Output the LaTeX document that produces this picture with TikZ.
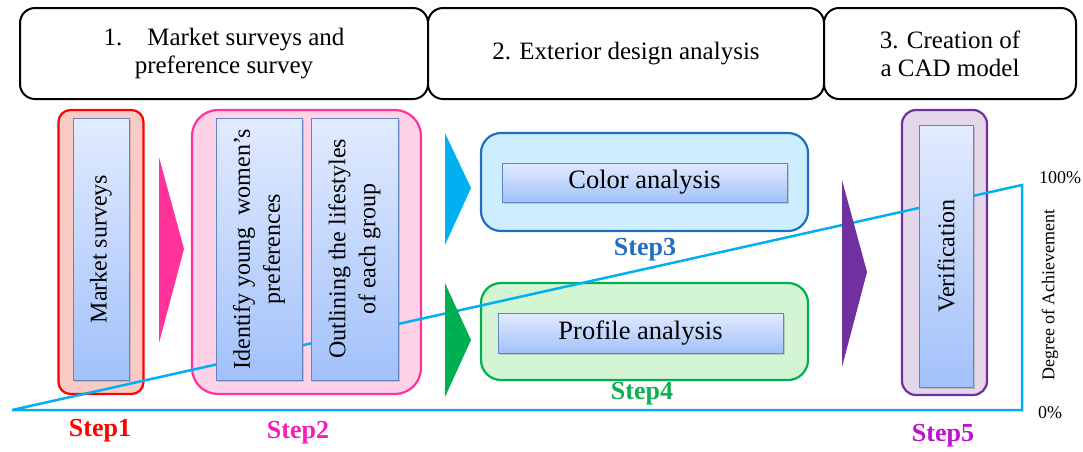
\documentclass[tikz,border=0pt]{standalone}
\usepackage{fontspec}
\setmainfont{Liberation Serif}
\usetikzlibrary{shadows}
\definecolor{skyline}{HTML}{00B0F0}
\definecolor{pinkarrow}{HTML}{FF3399}
\definecolor{greenarrow}{HTML}{00B050}
\definecolor{purplearrow}{HTML}{7030A0}
\definecolor{stepone}{HTML}{FF0000}
\definecolor{steptwo}{HTML}{F21FC0}
\definecolor{stepthree}{HTML}{1F70C0}
\definecolor{stepfour}{HTML}{10B050}
\definecolor{stepfive}{HTML}{C010D0}
\definecolor{innertop}{HTML}{E2EBFF}
\definecolor{innerbot}{HTML}{A2C1FA}
\definecolor{innerline}{HTML}{5E86C4}
\tikzset{
  header/.style={draw=black, line width=2pt, rounded corners=15pt, fill=white, align=center,
    font=\fontsize{25}{28}\selectfont, inner sep=0pt},
  outerbox/.style={line width=2.2pt, rounded corners=#1},
  innerbox/.style={draw=innerline, line width=1pt, top color=innertop, bottom color=innerbot,
    drop shadow={opacity=0.35, shadow xshift=1.5pt, shadow yshift=-1.5pt}, inner sep=0pt},
  steplabel/.style={font=\fontsize{26}{28}\selectfont\bfseries},
  rottext/.style={rotate=90, align=center, font=\fontsize{24}{30}\selectfont},
  horztext/.style={font=\fontsize{26.5}{30}\selectfont},
  axistext/.style={font=\fontsize{18}{20}\selectfont},
}
\begin{document}
\begin{tikzpicture}[x=1pt, y=-1pt]
\useasboundingbox (0,0) rectangle (1083,451);
\fill[white] (0,0) rectangle (1083,451);

% Header boxes
\node[header, minimum width=408pt, minimum height=91pt] (h1) at (224,53.5) {1.\quad Market surveys and\\preference survey};
\node[header, minimum width=396pt, minimum height=91pt] (h2) at (626,53.5) {2. Exterior design analysis};
\node[header, minimum width=252pt, minimum height=91pt] (h3) at (950,53.5) {3. Creation of\\a CAD model};

% Outer step boxes
\node[outerbox=12pt, draw=stepone, fill={rgb,255:red,249;green,203;blue,196}, minimum width=85pt, minimum height=284pt] (s1) at (101,252) {};
\node[outerbox=26pt, draw=pinkarrow, fill={rgb,255:red,255;green,210;blue,232}, minimum width=229pt, minimum height=284pt] (s2) at (306.5,252) {};
\node[outerbox=20pt, draw={rgb,255:red,30;green,112;blue,190}, fill={rgb,255:red,204;green,238;blue,255}, minimum width=327pt, minimum height=98pt] (s3) at (644.5,182) {};
\node[outerbox=20pt, draw=greenarrow, fill={rgb,255:red,212;green,245;blue,212}, minimum width=327pt, minimum height=97pt] (s4) at (644.5,331.5) {};
\node[outerbox=14pt, draw=purplearrow, fill={rgb,255:red,228;green,215;blue,234}, minimum width=85pt, minimum height=285pt] (s5) at (944.5,252.5) {};

% Degree of achievement line
\coordinate (a0) at (12,410);
\coordinate (a100) at (1022,185);
\coordinate (abase) at (1022,410);
\draw[skyline, line width=2.5pt, line join=miter, miter limit=2] (a0) -- (a100) -- (abase) -- cycle;

% Inner boxes
\node[innerbox, minimum width=56pt, minimum height=262pt] (i1) at (101,249) {};
\node[rottext] (t1) at (i1.center) {Market surveys};
\node[innerbox, minimum width=86pt, minimum height=262pt] (i2) at (259,249) {};
\node[rottext] (t2) at (i2.center) {Identify young\enspace women's\\preferences};
\node[innerbox, minimum width=87pt, minimum height=262pt] (i3) at (354.5,249) {};
\node[rottext] (t3) at (i3.center) {Outlining the lifestyles\\of each group};
\node[innerbox, minimum width=285pt, minimum height=39pt] (i4) at (644.5,182.5) {};
\node[horztext] (t4) at (i4.center) {Color analysis};
\node[innerbox, minimum width=285pt, minimum height=40pt] (i5) at (640.5,333) {};
\node[horztext] (t5) at (i5.center) {Profile analysis};
\node[innerbox, minimum width=54pt, minimum height=262pt] (i6) at (946,256) {};
\node[rottext] (t6) at (i6.center) {Verification};

% Triangles
\fill[pinkarrow] (159,157) -- (184,249) -- (159,343) -- cycle;
\fill[skyline] (445,133) -- (471,188) -- (445,245) -- cycle;
\fill[greenarrow] (445,283) -- (471,340) -- (445,397) -- cycle;
\fill[purplearrow] (842,180) -- (867,272) -- (842,367) -- cycle;

% Step labels
\node[steplabel, text=stepone] (l1) at (100,431) {Step1};
\node[steplabel, text=steptwo] (l2) at (298,433) {Step2};
\node[steplabel, text=stepthree] (l3) at (645,250) {Step3};
\node[steplabel, text=stepfour] (l4) at (642,394) {Step4};
\node[steplabel, text=stepfive] (l5) at (943,436) {Step5};

% Axis labels
\node[axistext] (p100) at (1060,178) {100\%};
\node[axistext] (p0) at (1050,413) {0\%};
\node[axistext, rotate=90] (deg) at (1050,295) {Degree of Achievement};
\end{tikzpicture}
\end{document}
